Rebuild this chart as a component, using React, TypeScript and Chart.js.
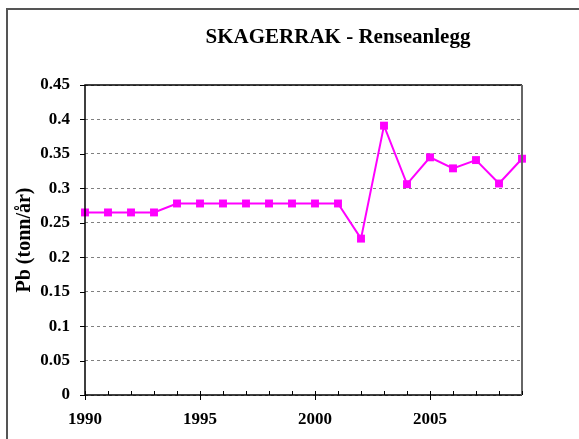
import React, { useEffect, useRef } from "react";
import { Chart, registerables } from "chart.js";

Chart.register(...registerables);

const years: number[] = [1990, 1991, 1992, 1993, 1994, 1995, 1996, 1997, 1998, 1999, 2000, 2001, 2002, 2003, 2004, 2005, 2006, 2007, 2008, 2009];
const pbValues: number[] = [0.265, 0.265, 0.265, 0.265, 0.278, 0.278, 0.278, 0.278, 0.278, 0.278, 0.278, 0.278, 0.227, 0.391, 0.306, 0.345, 0.329, 0.341, 0.307, 0.343];
const yTicks: number[] = [0, 0.05, 0.1, 0.15, 0.2, 0.25, 0.3, 0.35, 0.4, 0.45];
const xLabelYears: number[] = [1990, 1995, 2000, 2005];
const titleText = "SKAGERRAK - Renseanlegg";
const yAxisTitle = "Pb (tonn/år)";

const SERIF = '"Liberation Serif", "Times New Roman", serif';

const decorPlugin = {
  id: "decor",
  beforeDraw(chart: any) {
    const ctx = chart.ctx;
    ctx.save();
    ctx.fillStyle = "#ffffff";
    ctx.fillRect(0, 0, chart.width, chart.height);
    ctx.restore();
  },
  afterDraw(chart: any) {
    const ctx = chart.ctx;
    const { left, right, top, bottom } = chart.chartArea;
    const xs = chart.scales.x;
    const ys = chart.scales.y;
    ctx.save();
    // outer frame
    ctx.strokeStyle = "#555555";
    ctx.lineWidth = 2;
    ctx.beginPath();
    ctx.moveTo(7, chart.height);
    ctx.lineTo(7, 9);
    ctx.lineTo(chart.width, 9);
    ctx.stroke();
    // plot frame
    ctx.strokeStyle = "#000000";
    ctx.lineWidth = 1.5;
    ctx.beginPath();
    ctx.moveTo(right, top);
    ctx.lineTo(left, top);
    ctx.lineTo(left, bottom);
    ctx.lineTo(right, bottom);
    ctx.stroke();
    ctx.strokeStyle = "#666666";
    ctx.lineWidth = 2;
    ctx.beginPath();
    ctx.moveTo(right, top);
    ctx.lineTo(right, bottom);
    ctx.stroke();
    // x ticks
    ctx.strokeStyle = "#000000";
    ctx.lineWidth = 1;
    for (const yr of years) {
      const x = Math.round(xs.getPixelForValue(yr)) + 0.5;
      ctx.beginPath();
      if (yr % 5 === 0) {
        ctx.moveTo(x, bottom - 4);
        ctx.lineTo(x, bottom + 5);
      } else {
        ctx.moveTo(x, bottom - 4);
        ctx.lineTo(x, bottom);
      }
      ctx.stroke();
    }
    // y ticks
    for (const v of yTicks) {
      const y = Math.round(ys.getPixelForValue(v)) + 0.5;
      ctx.beginPath();
      ctx.moveTo(left - 5, y);
      ctx.lineTo(left, y);
      ctx.stroke();
    }
    // title
    ctx.fillStyle = "#000000";
    ctx.font = "bold 21px " + SERIF;
    ctx.textAlign = "center";
    ctx.textBaseline = "middle";
    ctx.fillText(titleText, 338, 38);
    ctx.restore();
  },
};

export default function App() {
  const canvasRef = useRef<HTMLCanvasElement | null>(null);

  useEffect(() => {
    if (!canvasRef.current) return;
    const chart = new Chart(canvasRef.current, {
      type: "line",
      data: {
        datasets: [
          {
            label: "Pb",
            data: years.map((y, i) => ({ x: y, y: pbValues[i] })),
            borderColor: "#ff00ff",
            backgroundColor: "#ff00ff",
            borderWidth: 2,
            pointStyle: "rect",
            pointRadius: 5.6,
            pointBorderWidth: 0,
            pointBackgroundColor: "#ff00ff",
            tension: 0,
            clip: false as any,
          },
        ],
      },
      options: {
        responsive: false,
        animation: false,
        devicePixelRatio: 1,
        layout: { padding: { top: 85, right: 57, bottom: 0, left: 0 } },
        plugins: {
          legend: { display: false },
          title: { display: false },
          tooltip: { enabled: false },
        },
        scales: {
          x: {
            type: "linear",
            min: 1990,
            max: 2009,
            afterFit: (s: any) => {
              s.height = 44;
            },
            grid: { display: false, drawTicks: false },
            border: { display: false },
            ticks: {
              stepSize: 1,
              autoSkip: false,
              maxRotation: 0,
              padding: 14,
              color: "#000000",
              font: { family: SERIF, size: 17, weight: "bold" },
              callback: (v: any) => (xLabelYears.includes(Number(v)) ? String(v) : ""),
            },
          },
          y: {
            type: "linear",
            min: 0,
            max: 0.45,
            afterFit: (s: any) => {
              s.width = 85;
            },
            grid: { color: "#808080", lineWidth: 1, drawTicks: false },
            border: { display: false, dash: [3, 3] },
            ticks: {
              stepSize: 0.05,
              padding: 15,
              color: "#000000",
              font: { family: SERIF, size: 17, weight: "bold" },
              callback: (v: any) => String(Number(Number(v).toFixed(2))),
            },
            title: {
              display: true,
              text: yAxisTitle,
              color: "#000000",
              font: { family: SERIF, size: 20, weight: "bold" },
              padding: { top: 13, bottom: 0 },
            },
          },
        },
      },
      plugins: [decorPlugin],
    });
    return () => chart.destroy();
  }, []);

  return (
    <div style={{ position: "fixed", left: 0, top: 0, width: 579, height: 439, background: "#fff" }}>
      <canvas ref={canvasRef} width={579} height={439} style={{ width: 579, height: 439, display: "block" }} />
    </div>
  );
}
